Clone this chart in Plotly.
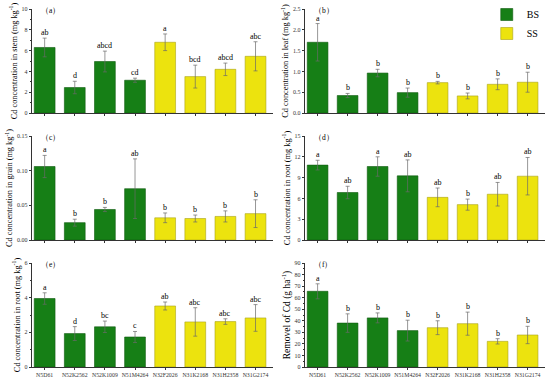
import plotly.graph_objects as go
from plotly.subplots import make_subplots

cultivars = ["N5D61", "N52K2562", "N52K1009", "N51M4264",
             "N32F2026", "N31K2168", "N31H2358", "N31G2174"]
bs_idx = [0, 1, 2, 3]
ss_idx = [4, 5, 6, 7]

stem = [6.3, 2.45, 4.95, 3.15, 6.8, 3.5, 4.2, 5.45]
stem_err = [0.9, 0.6, 1.0, 0.2, 0.8, 1.1, 0.6, 1.4]
stem_sig = ["ab", "d", "abcd", "cd", "a", "bcd", "abcd", "abc"]

leaf = [1.7, 0.42, 0.96, 0.49, 0.73, 0.41, 0.69, 0.74]
leaf_err = [0.45, 0.05, 0.09, 0.11, 0.03, 0.07, 0.13, 0.24]
leaf_sig = ["a", "b", "b", "b", "b", "b", "b", "b"]

grain = [0.106, 0.025, 0.044, 0.074, 0.032, 0.031, 0.034, 0.038]
grain_err = [0.016, 0.005, 0.003, 0.043, 0.007, 0.005, 0.008, 0.02]
grain_sig = ["a", "b", "b", "ab", "b", "b", "b", "b"]

root_d = [10.8, 6.85, 10.6, 9.25, 6.15, 5.1, 6.6, 9.2]
root_d_err = [0.7, 0.9, 1.4, 2.3, 1.35, 0.8, 1.7, 2.7]
root_d_sig = ["a", "ab", "a", "ab", "ab", "b", "ab", "ab"]

root_e = [3.95, 1.93, 2.32, 1.73, 3.52, 2.6, 2.62, 2.83]
root_e_err = [0.33, 0.4, 0.33, 0.32, 0.23, 0.82, 0.16, 0.77]
root_e_sig = ["a", "d", "bc", "c", "ab", "abc", "abc", "abc"]

removal = [65.5, 38.0, 42.5, 31.5, 34.0, 37.5, 22.2, 27.7]
removal_err = [6.5, 8.0, 4.3, 9.0, 6.0, 10.0, 2.3, 7.5]
removal_sig = ["a", "b", "b", "b", "b", "b", "b", "b"]

panels = [
    dict(v=stem, e=stem_err, s=stem_sig, lab="（a）", yt="Cd concentration in stem (mg kg<sup>-1</sup>)",
         rng=[0, 10], dt=2, fmt="d", ts=8.3),
    dict(v=leaf, e=leaf_err, s=leaf_sig, lab="（b）", yt="Cd concentration in leaf (mg kg<sup>-1</sup>)",
         rng=[0, 2.5], dt=0.5, fmt=".1f", ts=8.3),
    dict(v=grain, e=grain_err, s=grain_sig, lab="（c）", yt="Cd concentration in grain (mg kg<sup>-1</sup>)",
         rng=[0, 0.15], dt=0.05, fmt=".2f", ts=8.3),
    dict(v=root_d, e=root_d_err, s=root_d_sig, lab="（d）", yt="Cd concentration in root (mg kg<sup>-1</sup>)",
         rng=[0, 15], dt=3, fmt="d", ts=8.3),
    dict(v=root_e, e=root_e_err, s=root_e_sig, lab="（e）", yt="Cd concentration in root (mg kg<sup>-1</sup>)",
         rng=[0, 6], dt=2, fmt="d", ts=8.3),
    dict(v=removal, e=removal_err, s=removal_sig, lab="（f）", yt="Removel of Cd (g ha<sup>-1</sup>)",
         rng=[0, 90], dt=10, fmt="d", ts=9.5),
]

GREEN = "#167f16"
GREEN_LINE = "#0f5a0f"
YELLOW = "#ece30e"
YELLOW_LINE = "#a9a21a"
FONT = "Liberation Serif"

fig = make_subplots(rows=3, cols=2)

W, H = 550, 383
xdom = [(32 / W, 273 / W), (305 / W, 545 / W)]
ydom = [(1 - 113 / H, 1 - 9 / H), (1 - 240 / H, 1 - 136 / H), (1 - 367 / H, 1 - 263 / H)]

for i, p in enumerate(panels):
    r, c = i // 2 + 1, i % 2 + 1
    for name, idx, col, lc in [("BS", bs_idx, GREEN, GREEN_LINE), ("SS", ss_idx, YELLOW, YELLOW_LINE)]:
        fig.add_trace(go.Bar(
            x=[cultivars[k] for k in idx], y=[p["v"][k] for k in idx],
            error_y=dict(type="data", array=[p["e"][k] for k in idx], color="#6a6a6a",
                         thickness=0.7, width=2),
            marker=dict(color=col, line=dict(color=lc, width=0.6)),
            width=0.69, name=name, legendgroup=name, showlegend=(i == 0),
        ), row=r, col=c)
    axn = "" if i == 0 else str(i + 1)
    for k in range(8):
        fig.add_annotation(x=cultivars[k], y=p["v"][k] + p["e"][k], text=p["s"][k],
                           xref="x" + axn, yref="y" + axn, showarrow=False,
                           yanchor="bottom", yshift=-1,
                           font=dict(family=FONT, size=8, color="black"))
    fig.add_annotation(x=0.03, y=1.0, xref="x" + axn + " domain", yref="y" + axn + " domain",
                       text=p["lab"], showarrow=False, xanchor="left", yanchor="top", yshift=5,
                       font=dict(family=FONT, size=7.5, color="black"))
    fig.update_yaxes(range=p["rng"], dtick=p["dt"], tick0=0, tickformat=p["fmt"],
                     showline=True, linecolor="#333", linewidth=0.8, ticks="outside",
                     ticklen=2.5, tickwidth=0.7, tickcolor="#333",
                     minor=dict(ticks="outside", ticklen=1.5, tickwidth=0.6, tickcolor="#333", nticks=2),
                     showgrid=False, zeroline=False,
                     tickfont=dict(family=FONT, size=6, color="#333"),
                     title=dict(text=p["yt"], font=dict(family=FONT, size=p["ts"], color="black"), standoff=2),
                     domain=ydom[r - 1], row=r, col=c)
    fig.update_xaxes(type="category", categoryarray=cultivars, range=[-0.42, 7.58],
                     showline=True, linecolor="#333", linewidth=0.8, ticks="outside",
                     ticklen=2.5, tickwidth=0.7, tickcolor="#333",
                     showticklabels=(r == 3), showgrid=False, zeroline=False,
                     tickfont=dict(family=FONT, size=5.8, color="#333"),
                     domain=xdom[c - 1], row=r, col=c)

fig.update_layout(
    width=W, height=H, margin=dict(l=0, r=0, t=0, b=0, autoexpand=False),
    plot_bgcolor="white", paper_bgcolor="white", barmode="overlay",
    legend=dict(x=0.885, y=1.0, xanchor="left", yanchor="top",
                font=dict(family=FONT, size=10, color="black"),
                bgcolor="rgba(0,0,0,0)", tracegroupgap=0, itemwidth=30),
    font=dict(family=FONT),
)

fig.write_html("out.html", config={"displayModeBar": False},
               post_script="document.body.style.margin='0';document.body.style.padding='0';")
